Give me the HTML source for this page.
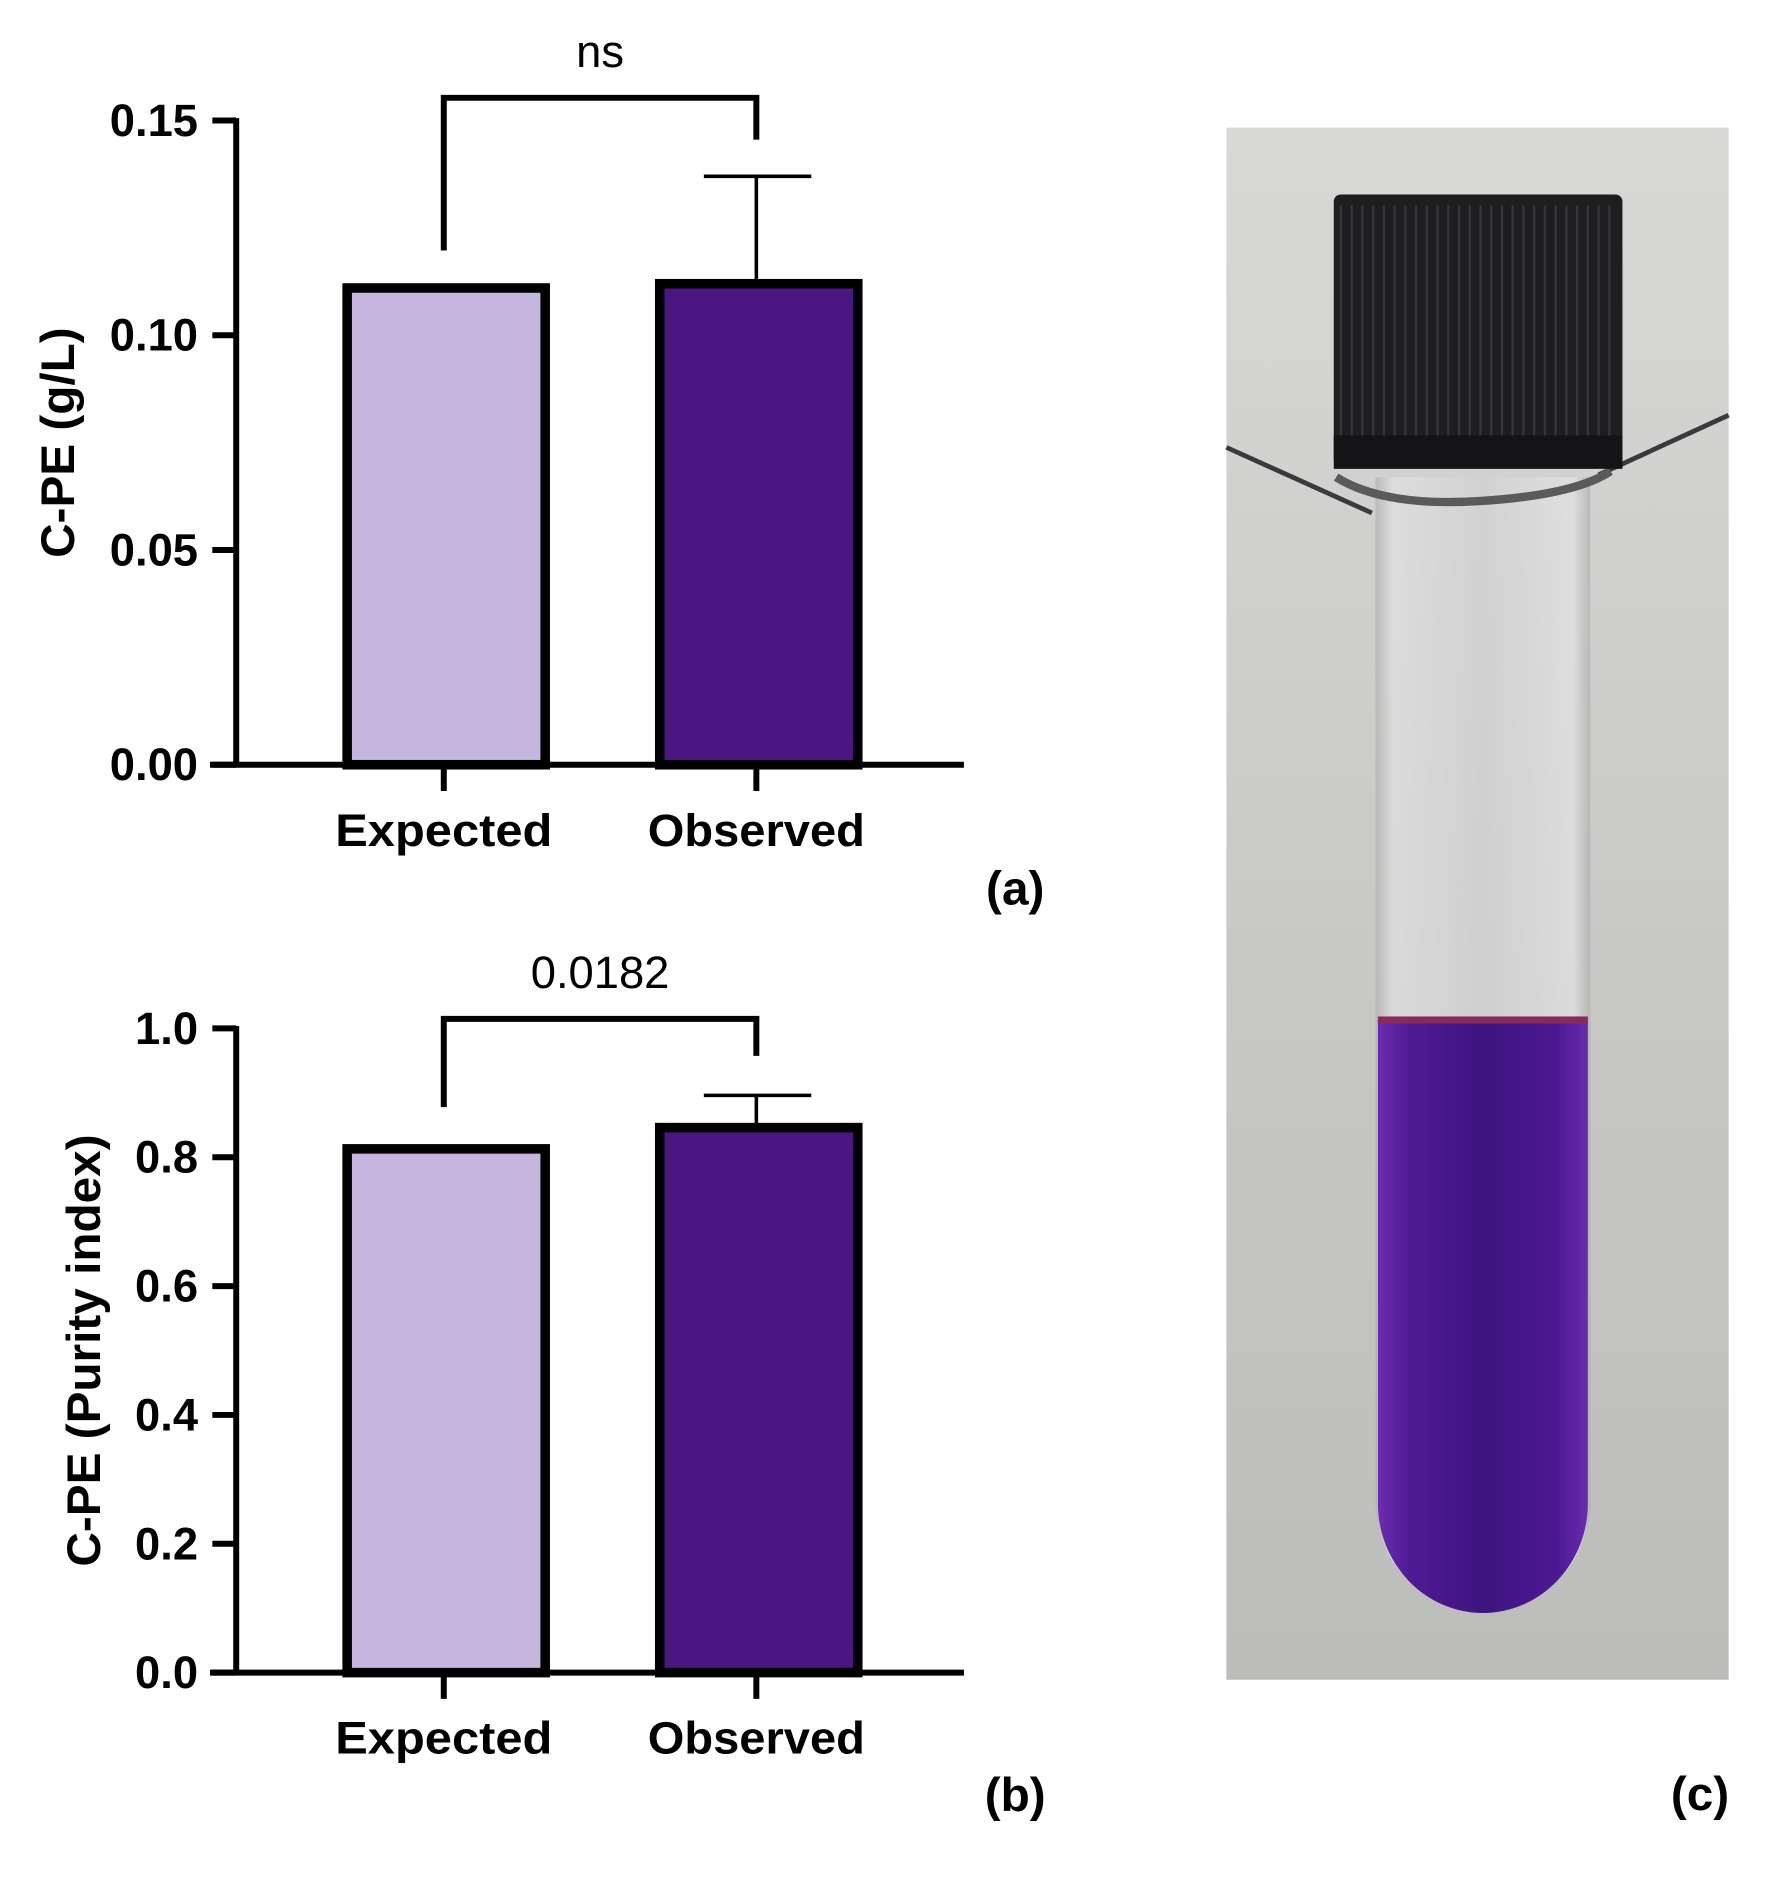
<!DOCTYPE html>
<html><head><meta charset="utf-8"><style>
html,body{margin:0;padding:0;background:#fff}
svg{display:block}
text{font-family:"Liberation Sans",Arial,sans-serif}
</style></head><body>
<svg id="fig" width="1789" height="1882" viewBox="0 0 1499.6 1577.5" preserveAspectRatio="none" xmlns="http://www.w3.org/2000/svg">
<defs>
<linearGradient id="bg" x1="0" y1="0" x2="0" y2="1"><stop offset="0" stop-color="#d8d8d6"/><stop offset="0.5" stop-color="#c9c9c7"/><stop offset="1" stop-color="#bcbcba"/></linearGradient>
<linearGradient id="liq" x1="0" y1="0" x2="1" y2="0"><stop offset="0" stop-color="#6c2cb0"/><stop offset="0.15" stop-color="#4f1a94"/><stop offset="0.5" stop-color="#3e1480"/><stop offset="0.85" stop-color="#4c1892"/><stop offset="1" stop-color="#6a2cae"/></linearGradient>
<linearGradient id="glass" x1="0" y1="0" x2="1" y2="0"><stop offset="0" stop-color="#b0b0b0"/><stop offset="0.08" stop-color="#e2e2e2"/><stop offset="0.5" stop-color="#d2d2d2"/><stop offset="0.92" stop-color="#e4e4e4"/><stop offset="1" stop-color="#aeaeae"/></linearGradient>
</defs>
<g id="charts"></g>
<g id="photo">
<rect x="1028" y="107" width="421" height="1301" fill="url(#bg)"/>
<path d="M1028 375 L1150 430" stroke="#3a3a3c" stroke-width="4" fill="none"/>
<path d="M1340 398 L1449 348" stroke="#3a3a3c" stroke-width="4" fill="none"/>
<path d="M1153 400 L1153 1260 A90 90 0 0 0 1333 1260 L1333 400 Z" fill="url(#glass)" opacity="0.7"/>
<path d="M1155 855 L1155 1260 A88 92 0 0 0 1331 1260 L1331 855 Z" fill="url(#liq)"/>
<rect x="1155" y="852" width="176" height="6" fill="#8a2a5c"/>
<path d="M1120 400 Q1160 425 1240 420 Q1320 415 1350 395" stroke="#5a5a5c" stroke-width="7" fill="none"/>
<rect x="1118" y="163" width="242" height="228" rx="6" fill="#1e1e21"/>
<rect x="1118" y="365" width="242" height="28" fill="#141416"/>
<g id="ribs" stroke="#34343a" stroke-width="2"></g>
</g>
<text x="1425" y="1517" font-size="40" font-weight="bold" text-anchor="middle">(c)</text>
</svg>
<script>
// Chart (a)
const catsA = ["Expected", "Observed"];
const valsA = [0.111, 0.112];
const errA = [0, 0.137];
const ticksA = [0, 0.05, 0.10, 0.15];
const tickLabelsA = ["0.00", "0.05", "0.10", "0.15"];
// Chart (b)
const catsB = ["Expected", "Observed"];
const valsB = [0.813, 0.846];
const errB = [0, 0.896];
const ticksB = [0, 0.2, 0.4, 0.6, 0.8, 1.0];
const tickLabelsB = ["0.0", "0.2", "0.4", "0.6", "0.8", "1.0"];
const colors = ["#c5b5df", "#4a1782"];

const NS = "http://www.w3.org/2000/svg";
const root = document.getElementById("charts");
function mk(tag, attrs, parent) {
  const e = document.createElementNS(NS, tag);
  for (const k in attrs) e.setAttribute(k, attrs[k]);
  (parent || root).appendChild(e);
  return e;
}
function chart(cfg) {
  const g = mk("g", {});
  
  
  const x0 = 198, x1 = 808, yTop = cfg.yTop, yBot = cfg.yBot;
  const maxV = cfg.ticks[cfg.ticks.length - 1];
  const y = v => yBot - (v / maxV) * (yBot - yTop);
  const xc = i => 372 + i * 262;
  const ya = mk("line", {x1: x0, y1: yTop - 2, x2: x0, y2: yBot, stroke: "#000", "stroke-width": 5}, g);
  
  
  cfg.ticks.forEach((t, i) => {
    mk("line", {x1: 178, y1: y(t), x2: x0, y2: y(t), stroke: "#000", "stroke-width": 5}, g);
    const tl = mk("text", {x: 166, y: y(t) + 13, "font-size": 38, "font-weight": "bold", "text-anchor": "end"}, g);
    
    
    tl.textContent = cfg.tickLabels[i];
  });
  const yt = mk("text", {x: 0, y: 0, "font-size": 40, "font-weight": "bold", "text-anchor": "middle", transform: "translate(" + cfg.titleX + "," + ((yTop + yBot) / 2) + ") rotate(-90)"}, g);
  
  
  yt.textContent = cfg.title;
  cfg.cats.forEach((c, i) => {
    const top = y(cfg.vals[i]);
    const b = mk("rect", {x: xc(i) - 81, y: top, width: 166, height: yBot - top, fill: colors[i], stroke: "#000", "stroke-width": 8}, g);
    
    
    if (cfg.err[i] > 0) {
      const ey = y(cfg.err[i]);
      const e = mk("path", {d: "M" + xc(i) + " " + (top - 4) + " L" + xc(i) + " " + ey + " M" + (xc(i) - 44) + " " + ey + " L" + (xc(i) + 46) + " " + ey, stroke: "#000", "stroke-width": 3, fill: "none"}, g);
      
      
    }
    mk("line", {x1: xc(i), y1: yBot, x2: xc(i), y2: yBot + 22, stroke: "#000", "stroke-width": 5}, g);
    const xl = mk("text", {x: xc(i), y: yBot + 68, "font-size": 38, "font-weight": "bold", "text-anchor": "middle", textLength: 182, lengthAdjust: "spacingAndGlyphs"}, g);
    
    
    xl.textContent = c;
  });
  const xa = mk("line", {x1: 176, y1: yBot, x2: x1, y2: yBot, stroke: "#000", "stroke-width": 5}, g);
  
  
  const br = mk("path", {d: "M" + xc(0) + " " + cfg.legL + " L" + xc(0) + " " + cfg.brY + " L" + xc(1) + " " + cfg.brY + " L" + xc(1) + " " + cfg.legR, stroke: "#000", "stroke-width": 5, fill: "none"}, g);
  
  
  const st = mk("text", {x: 503, y: cfg.brY - 26, "font-size": 38, "text-anchor": "middle"}, g);
  
  
  st.textContent = cfg.sig;
  const pl = mk("text", {x: 851, y: cfg.panelY, "font-size": 40, "font-weight": "bold", "text-anchor": "middle"}, g);
  
  
  pl.textContent = cfg.panel;
}
chart({name: "chart-a", yTop: 101, yBot: 641, ticks: ticksA, tickLabels: tickLabelsA, cats: catsA, vals: valsA, err: errA, title: "C-PE (g/L)", titleX: 62, brY: 82, legL: 210, legR: 117, sig: "ns", panel: "(a)", panelY: 758});
chart({name: "chart-b", yTop: 862, yBot: 1402, ticks: ticksB, tickLabels: tickLabelsB, cats: catsB, vals: valsB, err: errB, title: "C-PE (Purity index)", titleX: 84, brY: 854, legL: 928, legR: 885, sig: "0.0182", panel: "(b)", panelY: 1518});
const ribs = document.getElementById("ribs");
for (let x = 1124; x < 1356; x += 9) {
  const l = document.createElementNS(NS, "line");
  l.setAttribute("x1", x); l.setAttribute("y1", 172); l.setAttribute("x2", x); l.setAttribute("y2", 365);
  ribs.appendChild(l);
}
</script>
</body></html>
